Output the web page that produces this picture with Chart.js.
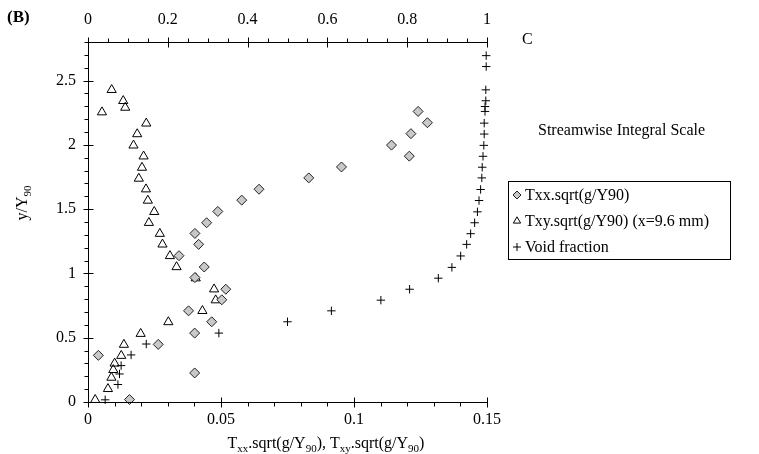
<!DOCTYPE html>
<html>
<head>
<meta charset="utf-8">
<title>Streamwise Integral Scale</title>
<script src="https://cdn.jsdelivr.net/npm/chart.js@4.4.1/dist/chart.umd.min.js"></script>
<style>
  html, body { margin: 0; padding: 0; background: #fff; }
  #wrap { width: 759px; height: 454px; }
</style>
</head>
<body>
<div id="wrap"><canvas id="integralChart" width="759" height="454"></canvas></div>
<script>
// Txx.sqrt(g/Y90) (diamonds, bottom axis)
const txxX = [0.0156, 0.0401, 0.0039, 0.0264, 0.0401, 0.0465, 0.0378, 0.0503, 0.0518, 0.0402, 0.0437, 0.0342, 0.0416,
  0.0402, 0.0446, 0.0488, 0.0578, 0.0643, 0.083, 0.0953, 0.1208, 0.1141, 0.1214, 0.1276, 0.1241]
const txxY = [0.019, 0.226, 0.363, 0.448, 0.536, 0.624, 0.709, 0.795, 0.877, 0.968, 1.05, 1.138, 1.226,
  1.311, 1.394, 1.482, 1.57, 1.655, 1.743, 1.828, 1.912, 1.998, 2.087, 2.172, 2.26]

// Txy.sqrt(g/Y90) (triangles, bottom axis)
const txyX = [0.0027, 0.0075, 0.0088, 0.0095, 0.0100, 0.0125, 0.0135, 0.0198, 0.0302, 0.043, 0.048, 0.0474, 0.0405,
  0.0333, 0.0308, 0.028, 0.027, 0.0229, 0.0249, 0.0225, 0.0218, 0.0191, 0.0203, 0.0209, 0.0171, 0.0185, 0.0219,
  0.00525, 0.014, 0.01325, 0.0089]
const txyY = [0.017, 0.102, 0.19, 0.25, 0.30, 0.36, 0.446, 0.531, 0.622, 0.709, 0.792, 0.877, 0.963,
  1.05, 1.136, 1.226, 1.309, 1.394, 1.479, 1.567, 1.655, 1.738, 1.823, 1.911, 1.996, 2.084, 2.167,
  2.254, 2.29, 2.342, 2.428]

// Void fraction C (crosses, top axis)
const voidC = [0.043, 0.075, 0.079, 0.083, 0.108, 0.146, 0.328, 0.50, 0.61, 0.734, 0.806, 0.878, 0.912, 0.934,
  0.949, 0.959, 0.969, 0.976, 0.98, 0.984, 0.987, 0.988, 0.99, 0.992, 0.993, 0.993, 0.995, 0.995, 0.997, 0.997,
  0.998, 0.998]
const voidY = [0.017, 0.136, 0.218, 0.283, 0.366, 0.451, 0.536, 0.624, 0.709, 0.792, 0.877, 0.963, 1.047, 1.136,
  1.226, 1.309, 1.394, 1.479, 1.567, 1.653, 1.743, 1.826, 1.911, 1.996, 2.084, 2.169, 2.26, 2.298, 2.343, 2.428,
  2.609, 2.694]

const bottomTicks = [0, 0.05, 0.1, 0.15]
const topTicks = [0, 0.2, 0.4, 0.6, 0.8, 1]
const yTicks = [0, 0.5, 1, 1.5, 2, 2.5]

const serif = "'Liberation Serif', 'Times New Roman', serif"
const fmt = v => String(Math.round(v * 1000) / 1000)

function toPoints(xs, ys) {
  return xs.map((x, i) => ({ x, y: ys[i] }))
}

// draw a string made of normal and subscript parts
function drawRich(ctx, parts, x, y, size, align) {
  const subSize = Math.round(size * 0.7)
  let total = 0
  parts.forEach(([t, sub]) => {
    ctx.font = `${sub ? subSize : size}px ${serif}`
    total += ctx.measureText(t).width
  })
  let cx = align === 'center' ? x - total / 2 : x
  ctx.textAlign = 'left'
  ctx.textBaseline = 'alphabetic'
  parts.forEach(([t, sub]) => {
    ctx.font = `${sub ? subSize : size}px ${serif}`
    ctx.fillText(t, cx, sub ? y + 4 : y)
    cx += ctx.measureText(t).width
  })
}

const decorations = {
  id: 'decorations',
  afterDraw(chart) {
    const { ctx, chartArea: a, scales } = chart
    ctx.save()
    ctx.strokeStyle = '#000'
    ctx.fillStyle = '#000'
    ctx.lineWidth = 1

    const L = Math.round(a.left) + 0.5
    const R = Math.round(a.right) + 0.5
    const T = Math.round(a.top) + 0.5
    const B = Math.round(a.bottom) + 0.5

    // axis lines
    ctx.beginPath()
    ctx.moveTo(L, T); ctx.lineTo(R, T)
    ctx.moveTo(L, T); ctx.lineTo(L, B)
    ctx.moveTo(L, B); ctx.lineTo(R, B)
    ctx.stroke()

    // tick marks: majors cross the axis, minors point outward
    const hTicks = (scale, yLine, minor, every, out) => {
      const n = Math.round((scale.max - scale.min) / minor)
      ctx.beginPath()
      for (let i = 0; i <= n; i++) {
        const px = Math.round(scale.getPixelForValue(scale.min + i * minor)) + 0.5
        if (i % every === 0) { ctx.moveTo(px, yLine - 5); ctx.lineTo(px, yLine + 5) }
        else { ctx.moveTo(px, yLine); ctx.lineTo(px, yLine + 4 * out) }
      }
      ctx.stroke()
    }
    hTicks(scales.x, B, 0.01, 5, 1)
    hTicks(scales.x2, T, 0.05, 4, -1)

    const ys = scales.y
    const ny = Math.round((ys.max - ys.min) / 0.1)
    ctx.beginPath()
    for (let i = 0; i <= ny; i++) {
      const py = Math.round(ys.getPixelForValue(ys.min + i * 0.1)) + 0.5
      if (i % 5 === 0) { ctx.moveTo(L - 5, py); ctx.lineTo(L + 5, py) }
      else { ctx.moveTo(L - 4, py); ctx.lineTo(L, py) }
    }
    ctx.stroke()

    // panel letter and annotations
    ctx.font = `bold 17px ${serif}`
    ctx.textAlign = 'left'
    ctx.textBaseline = 'middle'
    ctx.fillText('(B)', 7, 18)
    ctx.font = `16px ${serif}`
    ctx.fillText('C', 522, 40)
    ctx.fillText('Streamwise Integral Scale', 538, 131)

    // axis titles
    drawRich(ctx, [['T', false], ['xx', true], ['.sqrt(g/Y', false], ['90', true], ['), T', false],
      ['xy', true], ['.sqrt(g/Y', false], ['90', true], [')', false]], 326, 448, 16, 'center')

    ctx.save()
    ctx.translate(27, 203)
    ctx.rotate(-Math.PI / 2)
    drawRich(ctx, [['y/Y', false], ['90', true]], 0, 0, 16, 'center')
    ctx.restore()

    // legend box
    ctx.strokeStyle = '#000'
    ctx.strokeRect(508.5, 181.5, 222, 78)
    const rows = [195, 221, 247]
    chart.data.datasets.forEach((ds, i) => {
      ctx.fillStyle = ds.legendFill
      ctx.strokeStyle = ds.borderColor
      ctx.lineWidth = 1
      Chart.helpers.drawPoint(ctx, {
        pointStyle: ds.pointStyle,
        radius: ds.legendRadius,
        borderWidth: 1
      }, 517, rows[i])
      ctx.fillStyle = '#000'
      ctx.font = `16px ${serif}`
      ctx.textAlign = 'left'
      ctx.textBaseline = 'middle'
      ctx.fillText(ds.label, 525, rows[i] + 1)
    })
    ctx.restore()
  }
}

const tickFont = { family: serif, size: 16 }

new Chart(document.getElementById('integralChart').getContext('2d'), {
  type: 'scatter',
  data: {
    datasets: [
      {
        label: 'Txx.sqrt(g/Y90)',
        data: toPoints(txxX, txxY),
        xAxisID: 'x',
        pointStyle: 'rectRot',
        pointRadius: 5,
        legendRadius: 4,
        legendFill: '#c8c8c8',
        backgroundColor: '#c8c8c8',
        borderColor: '#222',
        borderWidth: 1,
        clip: false
      },
      {
        label: 'Txy.sqrt(g/Y90) (x=9.6 mm)',
        data: toPoints(txyX, txyY),
        xAxisID: 'x',
        pointStyle: 'triangle',
        pointRadius: 5.3,
        legendRadius: 4.2,
        legendFill: 'rgba(255,255,255,0)',
        backgroundColor: 'rgba(255,255,255,0)',
        borderColor: '#000',
        borderWidth: 1,
        clip: false
      },
      {
        label: 'Void fraction',
        data: toPoints(voidC, voidY),
        xAxisID: 'x2',
        pointStyle: 'cross',
        pointRadius: 4.2,
        legendRadius: 4,
        legendFill: '#000',
        backgroundColor: '#000',
        borderColor: '#000',
        borderWidth: 1,
        clip: false
      }
    ]
  },
  options: {
    responsive: false,
    animation: false,
    layout: { padding: { left: 0, right: 272, top: 0, bottom: 0 } },
    plugins: {
      legend: { display: false },
      tooltip: { enabled: false }
    },
    scales: {
      x: {
        type: 'linear',
        position: 'bottom',
        min: 0,
        max: 0.15,
        afterBuildTicks: s => { s.ticks = bottomTicks.map(value => ({ value })) },
        afterFit: s => { s.height = 52 },
        grid: { display: false, drawTicks: false },
        border: { display: false },
        ticks: { autoSkip: false, maxRotation: 0, padding: 8, color: '#000', font: tickFont, callback: fmt }
      },
      x2: {
        type: 'linear',
        position: 'top',
        min: 0,
        max: 1,
        afterBuildTicks: s => { s.ticks = topTicks.map(value => ({ value })) },
        afterFit: s => { s.height = 42 },
        grid: { display: false, drawTicks: false },
        border: { display: false },
        ticks: { autoSkip: false, maxRotation: 0, padding: 13, color: '#000', font: tickFont, callback: fmt }
      },
      y: {
        type: 'linear',
        min: 0,
        max: 2.8,
        afterBuildTicks: s => { s.ticks = yTicks.map(value => ({ value })) },
        afterFit: s => { s.width = 88 },
        grid: { display: false, drawTicks: false },
        border: { display: false },
        ticks: { autoSkip: false, padding: 12, color: '#000', font: tickFont, callback: fmt }
      }
    }
  },
  plugins: [decorations]
})
</script>
</body>
</html>
